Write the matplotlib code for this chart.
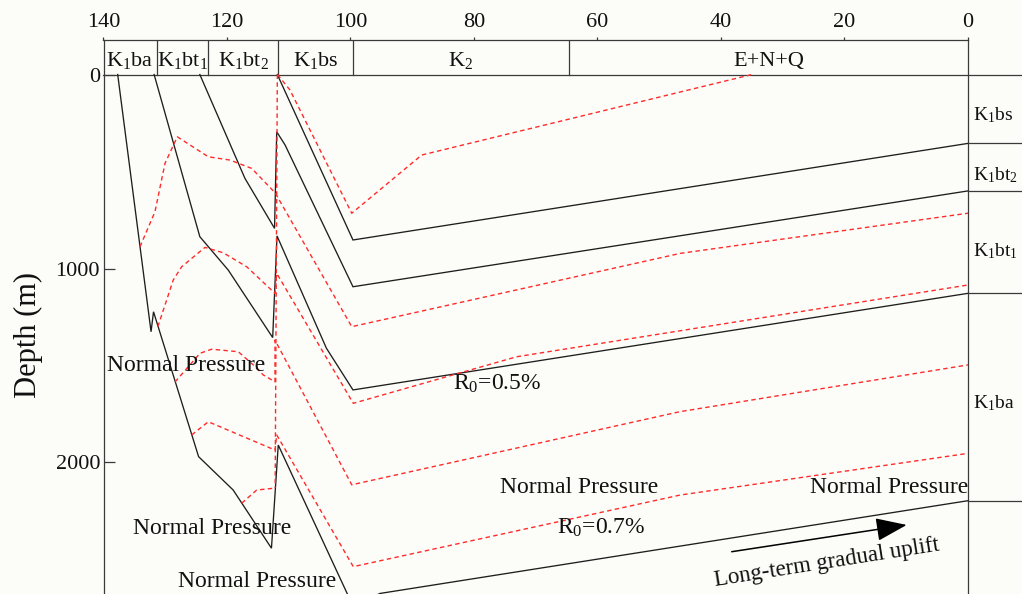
import matplotlib
matplotlib.use("Agg")
import matplotlib.pyplot as plt

plt.rcParams['font.family'] = ['Liberation Serif', 'DejaVu Serif']
plt.rcParams['mathtext.fontset'] = 'custom'
plt.rcParams['mathtext.rm'] = 'Liberation Serif'
plt.rcParams['mathtext.it'] = 'Liberation Serif:italic'

# ---------------- data (age in Ma, depth in m) ----------------
# burial curves (black)
base_k1ba_age = [137.7, 132.3, 131.9, 124.6, 119.0, 112.8, 111.7, 99.6, 95.2, 0]
base_k1ba_depth = [0, 1326, 1223, 1970, 2142, 2442, 1910, 2740, 2675, 2197]
top_k1ba_age = [131.8, 124.4, 119.8, 112.6, 111.9, 103.9, 99.6, 0]
top_k1ba_depth = [0, 836, 1008, 1356, 832, 1411, 1626, 1128]
top_k1bt1_age = [124.4, 117.1, 112.3, 111.95, 110.6, 99.6, 0]
top_k1bt1_depth = [0, 535, 793, 295, 363, 1094, 600]
top_k1bt2_age = [111.85, 99.6, 0]
top_k1bt2_depth = [0, 853, 355]

# isolines (red dashed)
iso_a_age = [111.82, 109.8, 99.8, 88.47, 35.0]
iso_a_depth = [0, 80, 715, 415, 0]
iso_b_age = [134.09, 131.66, 130.04, 128.05, 123.03, 119.51, 116.0, 112.2, 99.8, 46.6, 0]
iso_b_depth = [888, 707, 458, 321, 424, 441, 484, 610, 1300, 922, 715]
iso_c_age = [131.2, 128.7, 127.34, 123.56, 120.6, 116.81, 112.23, 111.95, 99.55, 73.1, 0]
iso_c_depth = [1300, 1059, 991, 891, 919, 991, 1128, 1025, 1695, 1455, 1085]
iso_d_age = [128.42, 124.37, 122.48, 118.17, 115.74, 114.12, 112.23, 112.23, 99.8, 46.64, 0]
iso_d_depth = [1585, 1437, 1416, 1429, 1497, 1549, 1584, 1369, 2115, 1738, 1497]
iso_e_age = [125.72, 123.03, 112.23, 111.95, 99.55, 46.64, 0]
iso_e_depth = [1858, 1790, 1936, 1858, 2537, 2168, 1953]
iso_f_age = [117.62, 115.19, 112.5, 112.23]
iso_f_depth = [2210, 2142, 2133, 2125]
unconf_age = [111.85, 112.2]
unconf_depth = [0, 2131]

# stratigraphy band
strat_bounds = [140, 131.4, 123.0, 111.8, 99.6, 64.6, 0]
strat_labels = [r'K$_\mathrm{1}$ba', r'K$_\mathrm{1}$bt$_\mathrm{1}$', r'K$_\mathrm{1}$bt$_\mathrm{2}$',
                r'K$_\mathrm{1}$bs', r'K$_\mathrm{2}$', 'E+N+Q']
present_labels = [r'K$_\mathrm{1}$bs', r'K$_\mathrm{1}$bt$_\mathrm{2}$', r'K$_\mathrm{1}$bt$_\mathrm{1}$', r'K$_\mathrm{1}$ba']
present_label_depth = [236, 545, 937, 1719]

x_ticks = [140, 120, 100, 80, 60, 40, 20, 0]
y_ticks = [0, 1000, 2000]

# annotations: (text, age, depth, ha)
notes = [
    ('Normal Pressure', 139.4, 1527, 'left'),
    ('Normal Pressure', 135.17, 2369, 'left'),
    ('Normal Pressure', 127.89, 2640, 'left'),
    ('Normal Pressure', 75.79, 2156, 'left'),
    ('Normal Pressure', -0.05, 2156, 'right'),
    (r'R$_\mathrm{0}$=0.5%', 83.45, 1626, 'left'),
    (r'R$_\mathrm{0}$=0.7%', 66.61, 2365, 'left'),
]
arrow_tail = (38.27, 2460)
arrow_head = (9.93, 2322)
uplift_text_pos = (22.8, 2515)

# ---------------- figure ----------------
BG = '#fcfcf8'
FRAME = '#3a3a3a'
BLACK = '#1e1e1e'
RED = '#ff2b2b'
XMIN, XMAX = 140, -8.745
YTOP, YBOT = -178, 2678

fig = plt.figure(figsize=(10.22, 5.94), dpi=100, facecolor=BG)
ax = fig.add_axes([103.5 / 1022, 0, (1022 - 103.5) / 1022, (594 - 40) / 594])
ax.set_facecolor(BG)
ax.set_xlim(XMIN, XMAX)
ax.set_ylim(YBOT, YTOP)

for s in ['top', 'right', 'bottom']:
    ax.spines[s].set_visible(False)
ax.spines['left'].set_color(FRAME)
ax.spines['left'].set_linewidth(0.9)

ax.xaxis.tick_top()
ax.set_xticks(x_ticks)
ax.set_xticklabels([str(t) for t in x_ticks])
ax.tick_params(axis='x', direction='out', length=2.5, width=0.9, pad=3.5,
               labelsize=16, colors=FRAME, labelcolor='#111111')
ax.set_yticks(y_ticks)
ax.set_yticklabels([str(t) for t in y_ticks])
ax.tick_params(axis='y', direction='in', length=8, width=0.9, pad=2.5,
               labelsize=16, colors=FRAME, labelcolor='#111111')

# frame of the stratigraphic band and right column
ax.plot([XMIN, 0], [YTOP, YTOP], color=FRAME, lw=0.9, clip_on=False)
ax.plot([XMIN, XMAX], [0, 0], color=FRAME, lw=0.9, clip_on=False)
ax.plot([0, 0], [YTOP, YBOT], color=FRAME, lw=0.9, clip_on=False)
for b in strat_bounds[1:-1]:
    ax.plot([b, b], [YTOP, 0], color=FRAME, lw=0.9)
for i, lab in enumerate(strat_labels):
    xc = (strat_bounds[i] + strat_bounds[i + 1]) / 2
    ax.text(xc, -46, lab, fontsize=16, ha='center', va='baseline', color='#111111')

# burial curves
curves = [(base_k1ba_age, base_k1ba_depth), (top_k1ba_age, top_k1ba_depth),
          (top_k1bt1_age, top_k1bt1_depth), (top_k1bt2_age, top_k1bt2_depth)]
for a, d in curves:
    ax.plot(a, d, color=BLACK, lw=0.95, solid_joinstyle='miter')
    ax.plot([0, XMAX], [d[-1], d[-1]], color=FRAME, lw=0.9, clip_on=False)

# isolines
dash = (0, (3.2, 2.4))
for a, d in [(iso_a_age, iso_a_depth), (iso_b_age, iso_b_depth), (iso_c_age, iso_c_depth),
             (iso_d_age, iso_d_depth), (iso_e_age, iso_e_depth), (iso_f_age, iso_f_depth),
             (unconf_age, unconf_depth)]:
    ax.plot(a, d, color=RED, lw=1.0, linestyle=dash)

# present-day formation labels (right column)
for lab, dep in zip(present_labels, present_label_depth):
    ax.text(-0.75, dep, lab, fontsize=14, ha='left', va='baseline', color='#111111', clip_on=False)

for txt, a, d, ha in notes:
    ax.text(a, d, txt, fontsize=17, ha=ha, va='baseline', color='#111111')

ax.annotate('', xy=arrow_head, xytext=arrow_tail,
            arrowprops=dict(arrowstyle='-|>,head_length=1.2,head_width=0.45',
                            mutation_scale=16, color='black', lw=1.1, shrinkA=0, shrinkB=0))
ax.text(uplift_text_pos[0], uplift_text_pos[1], 'Long-term gradual uplift', fontsize=16.5,
        rotation=9, rotation_mode='anchor', ha='center', va='center', color='#111111')

fig.text(28 / 1022, 1 - 335 / 594, 'Depth (m)', rotation=90, fontsize=22,
         ha='center', va='center', color='#111111')

fig.savefig('out.png', dpi=100, facecolor=BG)
